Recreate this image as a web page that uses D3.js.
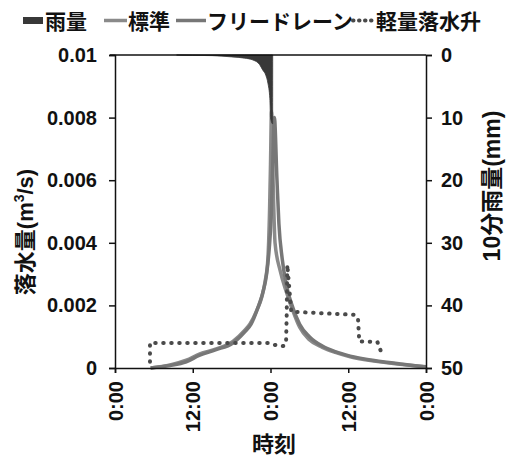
<!DOCTYPE html>
<html>
<head>
<meta charset="utf-8">
<script src="https://cdn.jsdelivr.net/npm/d3@7"></script>
<style>
  body { margin: 0; background: #fff; }
  text { font-family: "Liberation Sans", "Noto Sans CJK JP", sans-serif; }
</style>
</head>
<body>
<div id="chart"></div>
<script>
// time in hours from first 0:00
const xTicks = [0, 12, 24, 36, 48];
const yTicks = [0, 0.002, 0.004, 0.006, 0.008, 0.01];
const rTicks = [0, 10, 20, 30, 40, 50];

// 10-minute rainfall (mm)
const rainTime = [9.5, 12, 15, 18, 20, 21.3, 22.3, 22.8, 23.3, 23.6, 23.9, 24.0, 24.33, 24.34];
const rainVal  = [0, 0.05, 0.1, 0.3, 0.5, 0.8, 1.5, 2.4, 3.3, 4.5, 7, 10, 11, 0];

// 標準
const stdTime = [5.5, 8.5, 11, 13.1, 15.5, 18.2, 20, 20.8, 21.8, 22.7, 23.2, 23.6, 23.85, 24.0, 24.15, 24.4, 24.7, 25.5, 26.5, 27.5, 28.5, 30, 32, 34, 36.3, 40, 44, 48];
const stdVal  = [0, 0.0001, 0.00025, 0.00045, 0.0006, 0.00085, 0.0012, 0.0014, 0.0018, 0.0023, 0.0028, 0.0035, 0.005, 0.0065, 0.0082, 0.006, 0.004, 0.0031, 0.0024, 0.0018, 0.0013, 0.0009, 0.00066, 0.0005, 0.00036, 0.00022, 0.00012, 0.00003];

// フリードレーン
const freeTime = [5.5, 8.5, 11, 13, 15.5, 18.2, 20, 21, 22, 22.8, 23.4, 23.8, 24.1, 24.35, 24.6, 25.0, 25.3, 25.8, 26.5, 27.5, 28.5, 30, 32, 34, 36.3, 40, 44, 48];
const freeVal  = [0, 0.00008, 0.0002, 0.0004, 0.00058, 0.0008, 0.00115, 0.0014, 0.0019, 0.0024, 0.003, 0.0038, 0.0048, 0.0065, 0.008, 0.006, 0.0046, 0.0035, 0.0026, 0.0019, 0.0014, 0.001, 0.0007, 0.00052, 0.00038, 0.00024, 0.00013, 0.00004];

// 軽量落水升
const lightTime = [5.4, 5.4, 23.6, 24.2, 26.0, 26.4, 26.5, 26.6, 27.2, 36.9, 37.5, 37.7, 40.5, 41.1];
const lightVal  = [0.0002, 0.0008, 0.0008, 0.00075, 0.0007, 0.0008, 0.0017, 0.0033, 0.0018, 0.0017, 0.0016, 0.00085, 0.00083, 0.0005];

const width = 513, height = 460;
const mLeft = 115, mRight = 426, mTop = 55, mBottom = 368;

const svg = d3.select("#chart").append("svg")
    .attr("width", width)
    .attr("height", height);

svg.append("rect").attr("width", width).attr("height", height).attr("fill", "#fff");

const x = d3.scaleLinear().domain([0, 48]).range([mLeft, mRight]);
const y = d3.scaleLinear().domain([0, 0.01]).range([mBottom, mTop]);
const yR = d3.scaleLinear().domain([0, 50]).range([mTop, mBottom]);

// flow lines
const line = d3.line().x(d => x(d[0])).y(d => y(d[1])).curve(d3.curveMonotoneX);

svg.append("path")
    .datum(d3.zip(stdTime, stdVal))
    .attr("d", line)
    .attr("fill", "none")
    .attr("stroke", "#8a8a8a")
    .attr("stroke-width", 3.5);

svg.append("path")
    .datum(d3.zip(freeTime, freeVal))
    .attr("d", line)
    .attr("fill", "none")
    .attr("stroke", "#777")
    .attr("stroke-width", 3.5);

svg.append("path")
    .datum(d3.zip(lightTime, lightVal))
    .attr("d", d3.line().x(d => x(d[0])).y(d => y(d[1])))
    .attr("fill", "none")
    .attr("stroke", "#4a4a4a")
    .attr("stroke-width", 4)
    .attr("stroke-linecap", "round")
    .attr("stroke-dasharray", "0.5,7.5");

// rain (reversed right axis)
const area = d3.area()
    .x(d => x(d[0]))
    .y0(yR(0))
    .y1(d => yR(d[1]))
    .curve(d3.curveMonotoneX);

svg.append("path")
    .datum(d3.zip(rainTime, rainVal))
    .attr("d", area)
    .attr("fill", "#383838")
    .attr("stroke", "#383838")
    .attr("stroke-width", 0.8);

// axes
const fontSize = "20px";

const axL = svg.append("g")
    .attr("transform", `translate(${mLeft},0)`)
    .call(d3.axisLeft(y).tickValues(yTicks).tickSize(6).tickPadding(12)
        .tickFormat(d => d === 0 ? "0" : d3.format(".3~f")(d)));

const axR = svg.append("g")
    .attr("transform", `translate(${mRight},0)`)
    .call(d3.axisRight(yR).tickValues(rTicks).tickSize(6).tickPadding(9));

const axB = svg.append("g")
    .attr("transform", `translate(0,${mBottom})`)
    .call(d3.axisBottom(x).tickValues(xTicks).tickSize(5)
        .tickFormat(d => (d % 24) + ":00"));

axB.selectAll(".tick text")
    .attr("transform", "rotate(-90)")
    .attr("text-anchor", "end")
    .attr("x", -13)
    .attr("y", 0)
    .attr("dy", "0.35em");

[axL, axR, axB].forEach(g => {
    g.selectAll("text").attr("font-size", fontSize).attr("fill", "#111")
        .attr("font-family", "Liberation Sans, sans-serif").attr("font-weight", "bold");
    g.selectAll("path, line").attr("stroke", "#111").attr("stroke-width", 1.5);
});

// top frame line
svg.append("line")
    .attr("x1", mLeft - 5).attr("x2", mRight)
    .attr("y1", mTop).attr("y2", mTop)
    .attr("stroke", "#111").attr("stroke-width", 1.5);

// axis titles
svg.append("text")
    .attr("transform", "translate(33,232) rotate(-90)")
    .attr("text-anchor", "middle")
    .attr("font-size", "22px")
    .attr("font-weight", "bold")
    .attr("fill", "#111")
    .html('落水量(m<tspan dy="-9" font-size="14px">3</tspan><tspan dy="9">/s)</tspan>');

svg.append("text")
    .attr("transform", "translate(500,186) rotate(-90)")
    .attr("text-anchor", "middle")
    .attr("font-size", "23px")
    .attr("font-weight", "bold")
    .attr("fill", "#111")
    .text("10分雨量(mm)");

svg.append("text")
    .attr("x", 274)
    .attr("y", 452)
    .attr("text-anchor", "middle")
    .attr("font-size", "22px")
    .attr("font-weight", "bold")
    .attr("fill", "#111")
    .text("時刻");

// legend
const legend = svg.append("g").attr("font-size", "21px").attr("font-weight", "bold").attr("fill", "#111");

legend.append("rect").attr("x", 23).attr("y", 17).attr("width", 20).attr("height", 7).attr("fill", "#383838");
legend.append("text").attr("x", 45).attr("y", 29).text("雨量");

legend.append("line").attr("x1", 104).attr("x2", 127).attr("y1", 20.5).attr("y2", 20.5)
    .attr("stroke", "#8a8a8a").attr("stroke-width", 3.5);
legend.append("text").attr("x", 128).attr("y", 29).text("標準");

legend.append("line").attr("x1", 176).attr("x2", 206).attr("y1", 20.5).attr("y2", 20.5)
    .attr("stroke", "#777").attr("stroke-width", 3.5);
legend.append("text").attr("x", 207).attr("y", 29).text("フリードレーン");

legend.append("line").attr("x1", 353).attr("x2", 374).attr("y1", 20.5).attr("y2", 20.5)
    .attr("stroke", "#4a4a4a").attr("stroke-width", 4)
    .attr("stroke-linecap", "round").attr("stroke-dasharray", "0.5,5.5");
legend.append("text").attr("x", 376).attr("y", 29).text("軽量落水升");
</script>
</body>
</html>
